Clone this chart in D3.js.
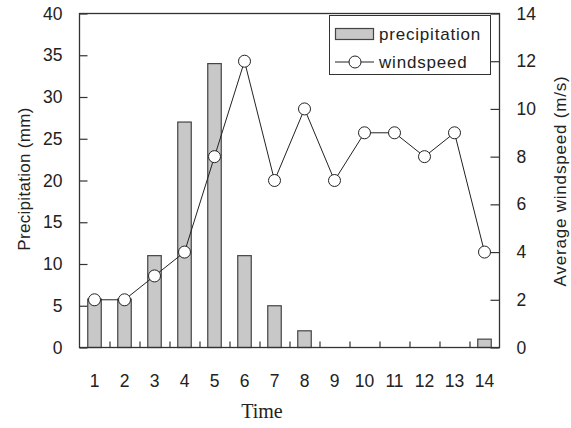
<!DOCTYPE html>
<html>
<head>
<meta charset="utf-8">
<script src="https://cdn.jsdelivr.net/npm/d3@7"></script>
<style>
	body { margin: 0; background: #fff; }
	svg text { font-family: "Liberation Sans", Arial, sans-serif; fill: #222; }
</style>
</head>
<body>
<div id="chart"></div>
<script>
// Chart data
const times = [1, 2, 3, 4, 5, 6, 7, 8, 9, 10, 11, 12, 13, 14];
const precipitation = [5.8, 5.8, 11, 27, 34, 11, 5, 2, 0, 0, 0, 0, 0, 1];
const windspeed = [2, 2, 3, 4, 8, 12, 7, 10, 7, 9, 9, 8, 9, 4];
const precipTicks = [0, 5, 10, 15, 20, 25, 30, 35, 40];
const windTicks = [0, 2, 4, 6, 8, 10, 12, 14];

function drawChart() {
	const width = 571, height = 428;
	const left = 79.5, right = 499.5, top = 13.5, bottom = 347.5;

	const svg = d3.select("#chart")
		.append("svg")
		.attr("width", width)
		.attr("height", height);

	// Scales
	const x = d3.scaleBand()
		.domain(times)
		.range([left, right])
		.padding(0);

	const yP = d3.scaleLinear().domain([0, 40]).range([bottom, top]);
	const yW = d3.scaleLinear().domain([0, 14]).range([bottom, top]);

	const barW = x.bandwidth() * 0.45;

	// Bars
	svg.append("g")
		.selectAll("rect")
		.data(times)
		.enter()
		.filter((d, i) => precipitation[i] > 0)
		.append("rect")
		.attr("x", (d) => x(d) + (x.bandwidth() - barW) / 2)
		.attr("y", (d) => yP(precipitation[times.indexOf(d)]))
		.attr("width", barW)
		.attr("height", (d) => bottom - yP(precipitation[times.indexOf(d)]))
		.attr("fill", "#c8c8c8")
		.attr("stroke", "#444")
		.attr("stroke-width", 1.2);

	// Frame
	svg.append("rect")
		.attr("x", left)
		.attr("y", top)
		.attr("width", right - left)
		.attr("height", bottom - top)
		.attr("fill", "none")
		.attr("stroke", "#333")
		.attr("stroke-width", 1.3);

	// Left axis
	const axL = svg.append("g")
		.attr("transform", `translate(${left},0)`)
		.call(d3.axisLeft(yP).tickValues(precipTicks).tickSize(-8).tickPadding(17));
	// Right axis
	const axR = svg.append("g")
		.attr("transform", `translate(${right},0)`)
		.call(d3.axisRight(yW).tickValues(windTicks).tickSize(-9).tickPadding(17));

	// Bottom axis: labels at band centres, ticks at band edges
	const axB = svg.append("g")
		.attr("transform", `translate(0,${bottom})`)
		.call(d3.axisBottom(x).tickSize(0).tickPadding(27));

	const edges = d3.scaleLinear().domain([0.5, 14.5]).range([left, right]);
	const axE = svg.append("g")
		.attr("transform", `translate(0,${bottom})`)
		.call(d3.axisBottom(edges).tickValues(d3.range(1.5, 14, 1)).tickSize(-6).tickFormat(""));

	[axL, axR, axB, axE].forEach((g) => {
		g.select(".domain").remove();
		g.selectAll("line").attr("stroke", "#333").attr("stroke-width", 1.2);
		g.selectAll("text")
			.style("font-size", "17.5px")
			.style("font-family", "'Liberation Sans', Arial, sans-serif")
			.attr("fill", "#222");
	});

	// Windspeed line
	const line = d3.line()
		.x((d, i) => x(times[i]) + x.bandwidth() / 2)
		.y((d) => yW(d));

	svg.append("path")
		.datum(windspeed)
		.attr("d", line)
		.attr("fill", "none")
		.attr("stroke", "#222")
		.attr("stroke-width", 1);

	svg.append("g")
		.selectAll("circle")
		.data(windspeed)
		.enter()
		.append("circle")
		.attr("cx", (d, i) => x(times[i]) + x.bandwidth() / 2)
		.attr("cy", (d) => yW(d))
		.attr("r", 6)
		.attr("fill", "#fff")
		.attr("stroke", "#222")
		.attr("stroke-width", 1);

	// Legend
	const lg = svg.append("g");
	lg.append("rect")
		.attr("x", 329.5).attr("y", 15.5)
		.attr("width", 161).attr("height", 59)
		.attr("fill", "#fff").attr("stroke", "#333").attr("stroke-width", 1);
	lg.append("rect")
		.attr("x", 335.5).attr("y", 28.5)
		.attr("width", 38).attr("height", 11)
		.attr("fill", "#c8c8c8").attr("stroke", "#444").attr("stroke-width", 1.2);
	lg.append("text")
		.attr("x", 379).attr("y", 40)
		.style("font-size", "17px")
		.style("letter-spacing", "0.8px")
		.text("precipitation");
	lg.append("line")
		.attr("x1", 335).attr("x2", 374)
		.attr("y1", 62).attr("y2", 62)
		.attr("stroke", "#222");
	lg.append("circle")
		.attr("cx", 355).attr("cy", 62).attr("r", 6)
		.attr("fill", "#fff").attr("stroke", "#222");
	lg.append("text")
		.attr("x", 379).attr("y", 68)
		.style("font-size", "17px")
		.style("letter-spacing", "0.8px")
		.text("windspeed");

	// Axis titles
	svg.append("text")
		.attr("transform", "translate(30,179) rotate(-90)")
		.attr("text-anchor", "middle")
		.style("font-size", "17px")
		.style("letter-spacing", "0.3px")
		.text("Precipitation (mm)");

	svg.append("text")
		.attr("transform", "translate(566,181) rotate(-90)")
		.attr("text-anchor", "middle")
		.style("font-size", "17px")
		.style("letter-spacing", "0.8px")
		.text("Average windspeed (m/s)");

	svg.append("text")
		.attr("x", 262).attr("y", 418)
		.attr("text-anchor", "middle")
		.style("font-family", "'Liberation Serif', 'Times New Roman', serif")
		.style("font-size", "20px")
		.text("Time");
}

document.addEventListener("DOMContentLoaded", drawChart);
</script>
</body>
</html>
